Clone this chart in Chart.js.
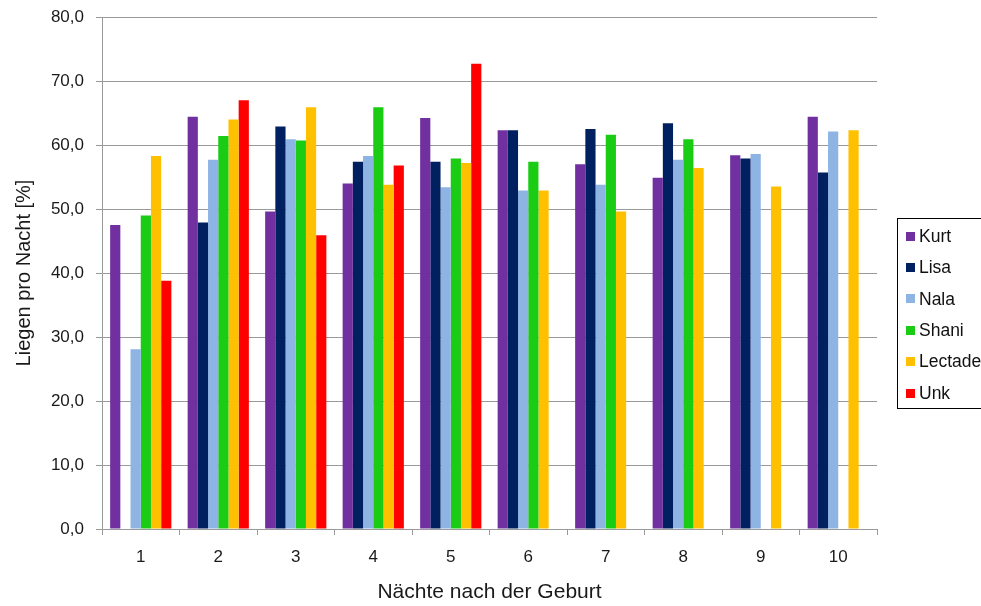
<!DOCTYPE html>
<html>
<head>
<meta charset="utf-8">
<script src="https://cdn.jsdelivr.net/npm/chart.js@4/dist/chart.umd.min.js"></script>
<style>
  html, body { margin: 0; padding: 0; background: #fff; overflow: hidden; }
  #wrap { position: relative; width: 1000px; height: 606px; }
</style>
</head>
<body>
<div id="wrap"><canvas id="c"></canvas></div>
<script>
// Nights after birth
const nights = ['1', '2', '3', '4', '5', '6', '7', '8', '9', '10'];

// Share of lying per night [%] for each animal
const kurt    = [47.5, 64.4, 49.6, 54.0, 64.2, 62.3, 57.0, 54.9, 58.4, 64.4];
const lisa    = [null, 47.9, 62.9, 57.4, 57.4, 62.3, 62.5, 63.4, 57.9, 55.7];
const nala    = [28.1, 57.7, 60.9, 58.3, 53.4, 52.9, 53.8, 57.7, 58.6, 62.1];
const shani   = [49.0, 61.4, 60.7, 65.9, 57.9, 57.4, 61.6, 60.9, null, null];
const lectade = [58.3, 64.0, 65.9, 53.8, 57.2, 52.9, 49.6, 56.4, 53.5, 62.3];
const unk     = [38.8, 67.0, 45.9, 56.8, 72.7, null, null, null, null, null];

const seriesNames  = ['Kurt', 'Lisa', 'Nala', 'Shani', 'Lectade', 'Unk'];
const seriesValues = [kurt, lisa, nala, shani, lectade, unk];
const seriesColors = ['#7030A0', '#002060', '#8EB4E3', '#1ACC14', '#FFC000', '#FF0000'];

const FONT = "Arial, 'Liberation Sans', sans-serif";
const AXIS_GRAY = '#9a9a9a';

// Framed legend box to the right of the plot
const boxLegend = {
  id: 'boxLegend',
  afterDraw(chart) {
    const ctx = chart.ctx;
    const area = chart.chartArea;
    const left = Math.round(area.right) + 20.5;
    const top = 218.5;
    const height = 190;
    const width = 95;
    ctx.save();
    ctx.strokeStyle = '#000';
    ctx.lineWidth = 1;
    ctx.strokeRect(left, top, width, height);
    ctx.font = '17.5px ' + FONT;
    ctx.textBaseline = 'middle';
    ctx.textAlign = 'left';
    const step = 31.4;
    chart.data.datasets.forEach((ds, i) => {
      const cy = top + 17.5 + i * step;
      ctx.fillStyle = ds.backgroundColor;
      ctx.fillRect(left + 8.5, Math.round(cy - 4.5), 9, 9);
      ctx.fillStyle = '#111';
      ctx.fillText(ds.label, left + 21.5, cy + 1);
    });
    ctx.restore();
  }
};

new Chart(document.getElementById('c'), {
  type: 'bar',
  data: {
    labels: nights,
    datasets: seriesNames.map((name, i) => ({
      label: name,
      data: seriesValues[i],
      backgroundColor: seriesColors[i],
      borderWidth: 0,
      categoryPercentage: 0.79,
      barPercentage: 1.0
    }))
  },
  options: {
    responsive: true,
    maintainAspectRatio: false,
    animation: false,
    layout: { padding: { top: 17, right: 123, bottom: 0, left: 0 } },
    plugins: {
      legend: { display: false },
      tooltip: { enabled: false }
    },
    scales: {
      x: {
        afterFit(scale) {
          scale.height = 77;
          scale.paddingLeft = 0;
          scale.paddingRight = 0;
        },
        grid: {
          offset: true,
          drawOnChartArea: false,
          drawTicks: true,
          tickLength: 6,
          color: AXIS_GRAY,
          lineWidth: 1
        },
        border: { color: AXIS_GRAY, width: 1 },
        ticks: {
          color: '#1a1a1a',
          padding: 12,
          font: { family: FONT, size: 17 }
        },
        title: {
          display: true,
          text: 'Nächte nach der Geburt',
          color: '#1a1a1a',
          padding: { top: 0, bottom: 1 },
          font: { family: FONT, size: 21 }
        }
      },
      y: {
        min: 0,
        max: 80,
        afterFit(scale) {
          scale.width = 102;
          scale.paddingTop = 0;
          scale.paddingBottom = 0;
        },
        grid: {
          drawTicks: true,
          tickLength: 6,
          color: AXIS_GRAY,
          lineWidth: 1
        },
        border: { color: AXIS_GRAY, width: 1 },
        ticks: {
          stepSize: 10,
          color: '#1a1a1a',
          padding: 12,
          font: { family: FONT, size: 17 },
          callback: (v) => Number(v).toFixed(1).replace('.', ',')
        },
        title: {
          display: true,
          text: 'Liegen pro Nacht [%]',
          color: '#1a1a1a',
          padding: { top: 12, bottom: 0 },
          font: { family: FONT, size: 20 }
        }
      }
    }
  },
  plugins: [boxLegend]
});
</script>
</body>
</html>
